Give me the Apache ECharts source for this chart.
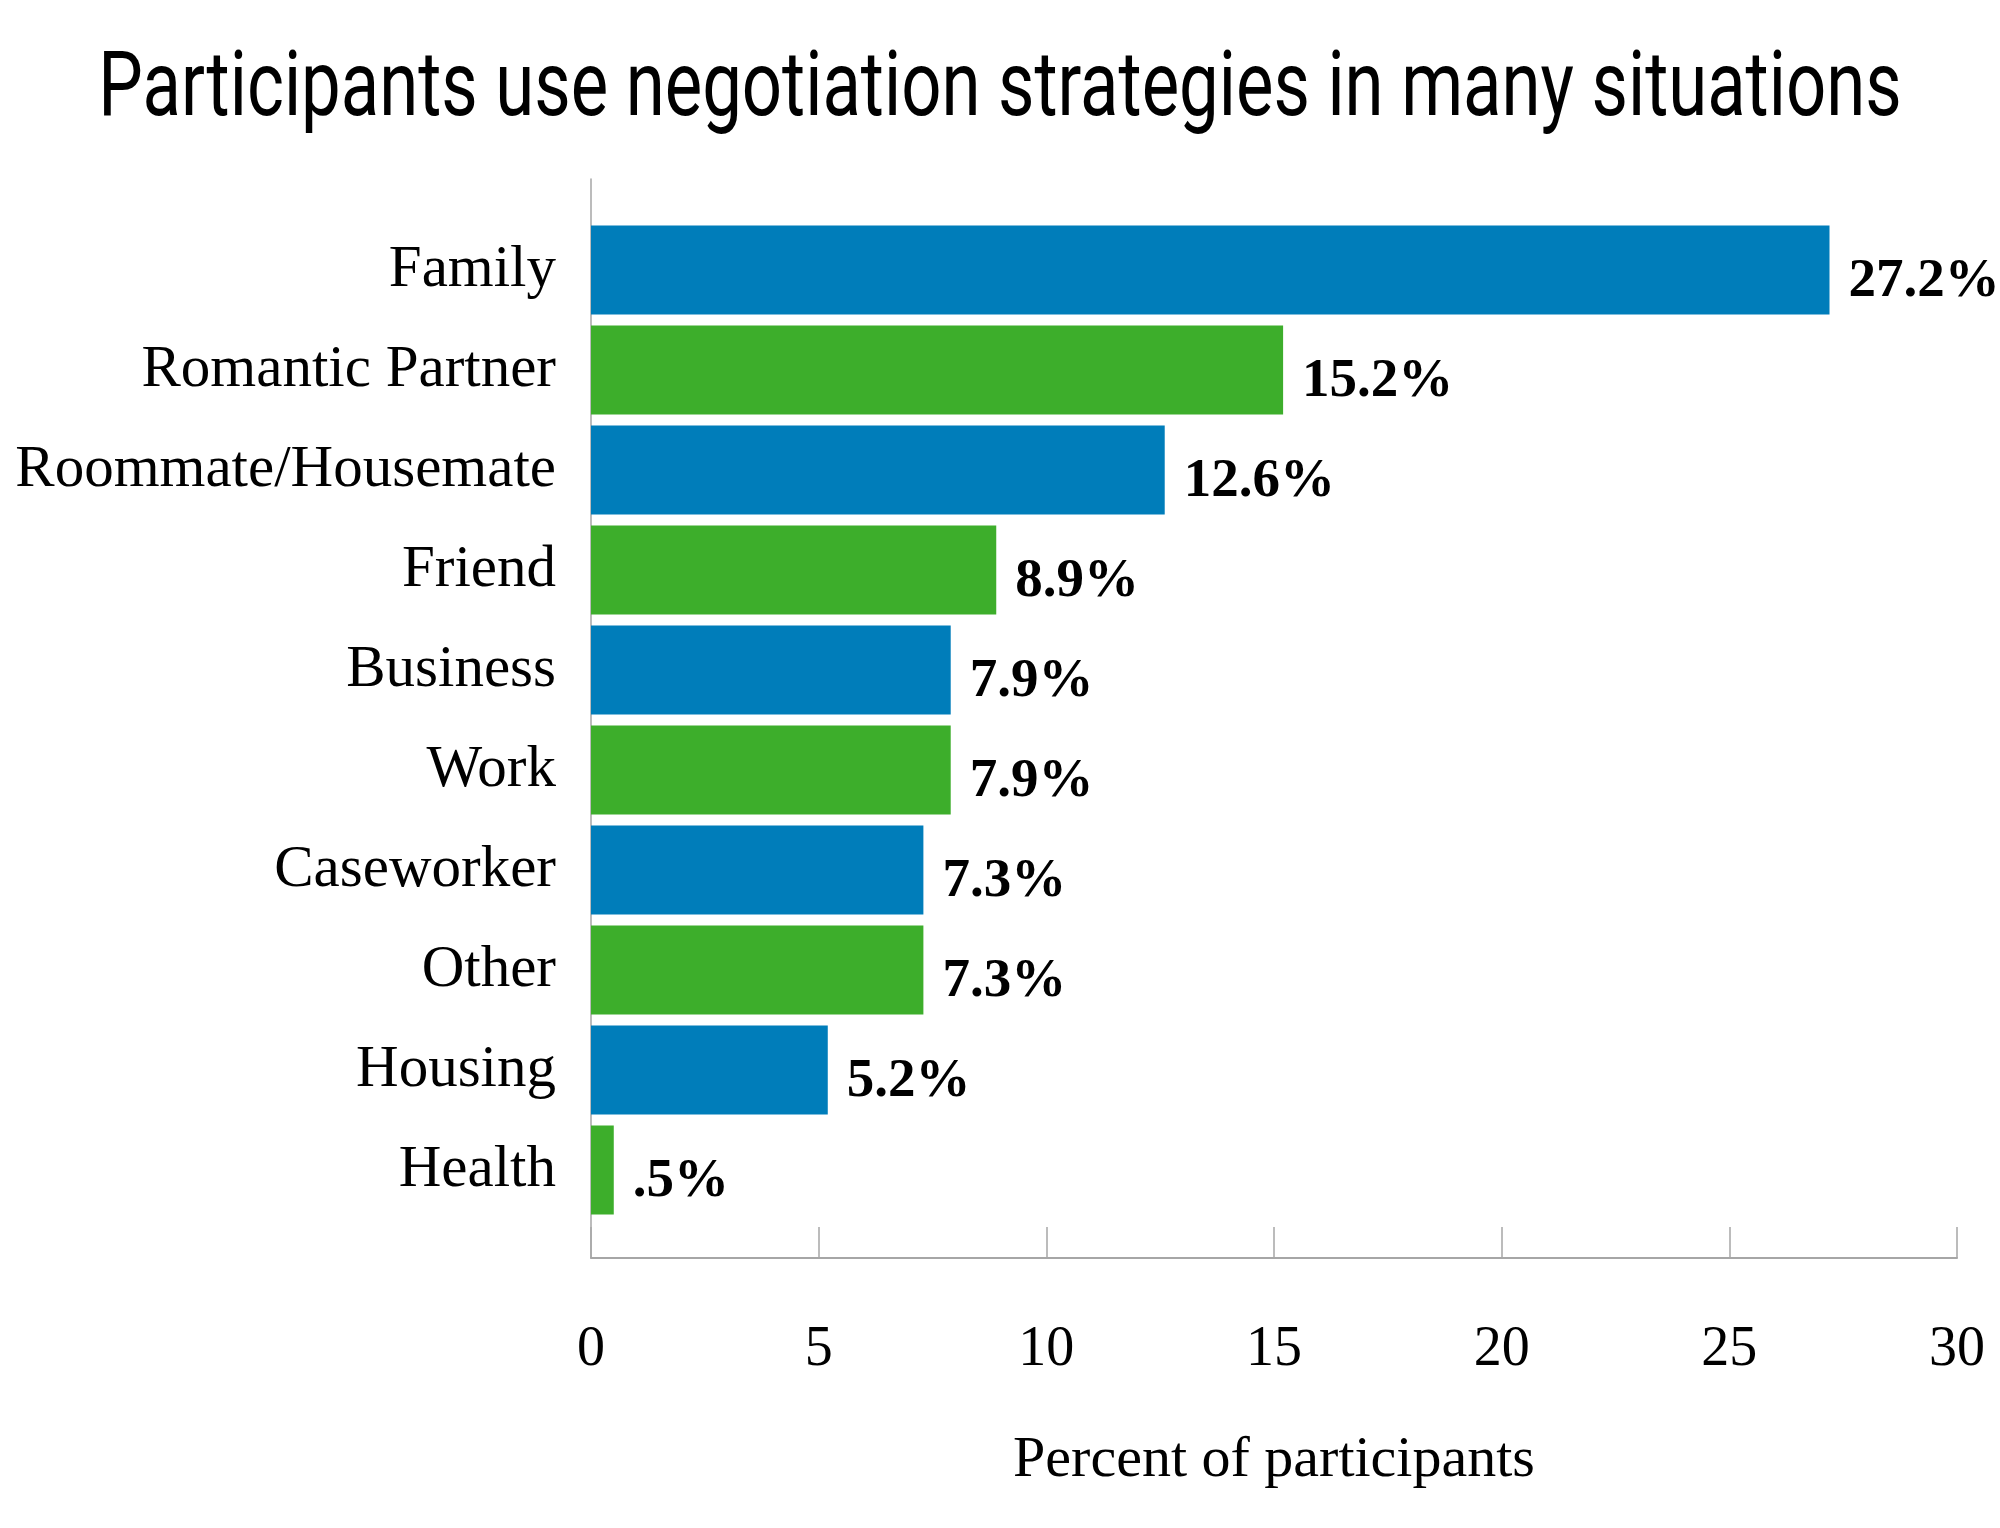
<!DOCTYPE html>
<html>
<head>
<meta charset="utf-8">
<script src="https://cdn.jsdelivr.net/npm/echarts@6/dist/echarts.min.js"></script>
<style>
  html, body { margin: 0; padding: 0; background: #fff; }
  #chart { width: 2000px; height: 1528px; }
</style>
</head>
<body>
<div id="chart"></div>
<script>
  // data
  const categories = ['Family', 'Romantic Partner', 'Roommate/Housemate', 'Friend', 'Business',
    'Work', 'Caseworker', 'Other', 'Housing', 'Health'];
  const percents = [27.2, 15.2, 12.6, 8.9, 7.9, 7.9, 7.3, 7.3, 5.2, 0.5];
  const valueLabels = ['27.2%', '15.2%', '12.6%', '8.9%', '7.9%', '7.9%', '7.3%', '7.3%', '5.2%', '.5%'];
  const xTicks = [0, 5, 10, 15, 20, 25, 30];

  const BLUE = '#007dba';
  const GREEN = '#3dae2b';
  const SERIF = "'Liberation Serif', 'DejaVu Serif', serif";

  const chart = echarts.init(document.getElementById('chart'));

  const option = {
    backgroundColor: '#fff',
    animation: false,
    graphic: [{
      type: 'text',
      x: 1000,
      y: 92,
      scaleX: 0.785,
      style: {
        text: 'Participants use negotiation strategies in many situations',
        font: "400 90px Roboto, 'DejaVu Sans', sans-serif",
        fill: '#000',
        textAlign: 'center',
        textVerticalAlign: 'middle'
      }
    }],
    grid: [
      // frame: axis lines, ticks and labels
      { left: 591, right: 43, top: 179, bottom: 270 },
      // bars
      { left: 591, right: 43, top: 220, bottom: 308 }
    ],
    xAxis: [{
      gridIndex: 0,
      type: 'value',
      min: xTicks[0],
      max: xTicks[xTicks.length - 1],
      interval: 5,
      axisLine: { show: true, lineStyle: { color: '#a6a6a6', width: 2 } },
      axisTick: { show: true, inside: true, length: 31, lineStyle: { color: '#a6a6a6', width: 1.5 } },
      splitLine: { show: false },
      axisLabel: { margin: 64, color: '#000', fontFamily: SERIF, fontSize: 56 },
      name: 'Percent of participants',
      nameLocation: 'middle',
      nameGap: 174,
      nameTextStyle: { color: '#000', fontFamily: SERIF, fontSize: 58 }
    }, {
      gridIndex: 1,
      type: 'value',
      min: xTicks[0],
      max: xTicks[xTicks.length - 1],
      show: false
    }],
    yAxis: [{
      gridIndex: 0,
      type: 'value',
      min: 0,
      max: 1,
      axisLine: { show: true, lineStyle: { color: '#a6a6a6', width: 1.5 } },
      axisTick: { show: false },
      axisLabel: { show: false },
      splitLine: { show: false }
    }, {
      gridIndex: 1,
      type: 'category',
      data: categories,
      inverse: true,
      axisLine: { show: false },
      axisTick: { show: false },
      axisLabel: { margin: 35, color: '#000', fontFamily: SERIF, fontSize: 59, padding: [9, 0, 0, 0] }
    }],
    series: [{
      type: 'bar',
      xAxisIndex: 1,
      yAxisIndex: 1,
      data: percents,
      barCategoryGap: '11%',
      itemStyle: { color: p => (p.dataIndex % 2 === 0 ? BLUE : GREEN) },
      label: {
        show: true,
        position: 'right',
        distance: 19,
        offset: [0, 12],
        formatter: p => valueLabels[p.dataIndex],
        color: '#000',
        fontFamily: SERIF,
        fontWeight: 'bold',
        fontSize: 55
      }
    }]
  };

  chart.setOption(option);
</script>
</body>
</html>
